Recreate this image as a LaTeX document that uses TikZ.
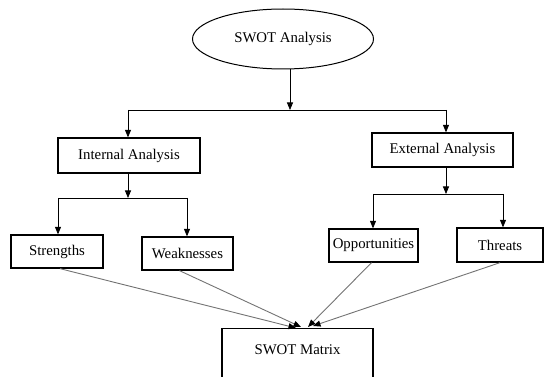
\documentclass[tikz,border=0pt]{standalone}
\usepackage{fontspec}
\setmainfont{Liberation Serif}
\usetikzlibrary{arrows.meta,shapes.geometric}
\begin{document}
\begin{tikzpicture}[x=1pt,y=-1pt,
  txt/.style={font=\rmfamily\fontsize{14.8}{16}\selectfont},
  box/.style={draw,line width=1.3pt,inner sep=0pt,txt},
  arr/.style={-{Triangle[width=6pt,length=7.5pt]},line width=0.8pt},
  garr/.style={-{Triangle[width=6pt,length=7.5pt,color=black]},line width=0.9pt,draw=black!55}]
\useasboundingbox (0,0) rectangle (547,377);
\node[box,ellipse,line width=1pt,minimum width=181pt,minimum height=60pt] (swot) at (283,39) {SWOT Analysis};
\node[box,minimum width=142pt,minimum height=35pt] (int) at (129,155.5) {Internal Analysis};
\node[box,minimum width=141pt,minimum height=34pt] (ext) at (442.5,150) {External Analysis};
\node[box,minimum width=92pt,minimum height=33pt] (str) at (57,251.5) {Strengths};
\node[box,minimum width=91pt,minimum height=33pt] (weak) at (187.5,253.5) {Weaknesses};
\node[box,minimum width=89pt,minimum height=33pt] (opp) at (373.5,245.5) {Opportunities};
\node[box,minimum width=86pt,minimum height=34pt] (thr) at (500,245) {Threats};
\node[box,minimum width=151pt,minimum height=62pt,anchor=north] (mat) at (297.5,328) {};
\node[txt] (matlbl) at (297.5,350) {SWOT Matrix};
% top split
\coordinate (j1) at (290,110);
\coordinate (j1l) at (128,110);
\coordinate (j1r) at (446,110);
\draw[arr] (swot.south -| j1) -- (j1);
\draw[line width=0.8pt] (j1l) -- (j1r);
\draw[arr] (j1l) -- (int.north -| j1l);
\draw[arr] (j1r) -- (ext.north -| j1r);
% internal split
\coordinate (j2) at (128,198);
\coordinate (j2l) at (58,198);
\coordinate (j2r) at (187,198);
\draw[arr] (int.south -| j2) -- (j2);
\draw[line width=0.8pt] (j2l) -- (j2r);
\draw[arr] (j2l) -- (str.north -| j2l);
\draw[arr] (j2r) -- (weak.north -| j2r);
% external split
\coordinate (j3) at (446,194);
\coordinate (j3l) at (373,194);
\coordinate (j3r) at (503,194);
\draw[arr] (ext.south -| j3) -- (j3);
\draw[line width=0.8pt] (j3l) -- (j3r);
\draw[arr] (j3l) -- (opp.north -| j3l);
\draw[arr] (j3r) -- (thr.north -| j3r);
% convergence
\coordinate (m1) at (296,328);
\coordinate (m2) at (301,327);
\coordinate (m3) at (308,327);
\coordinate (m4) at (313,326);
\draw[garr] (str.south) ++(3,0) -- (m1);
\draw[garr] ([xshift=-8pt]weak.south) -- (m2);
\draw[garr] ([xshift=-2pt]opp.south) -- (m3);
\draw[garr] (thr.south) -- (m4);
\end{tikzpicture}
\end{document}
